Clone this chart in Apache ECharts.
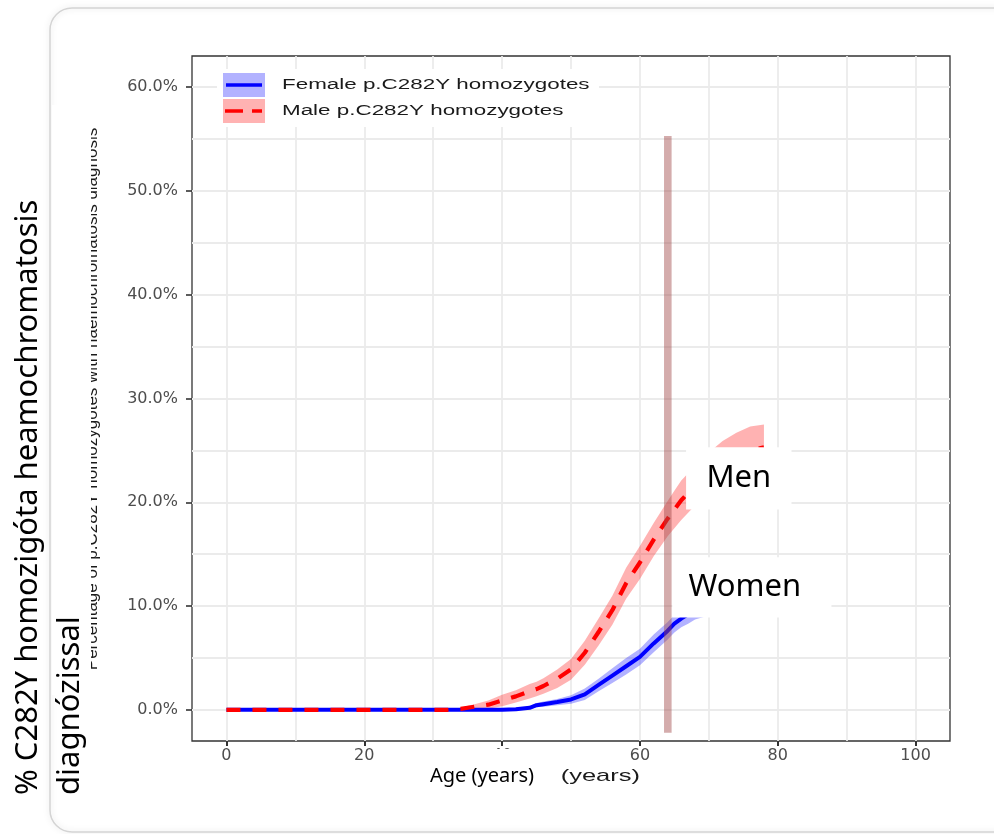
<!DOCTYPE html>
<html>
<head>
<meta charset="utf-8">
<script src="https://cdn.jsdelivr.net/npm/echarts@6/dist/echarts.min.js"></script>
<style>
  html, body { margin: 0; padding: 0; background: #fff; }
  #main { width: 994px; height: 834px; }
</style>
</head>
<body>
<div id="main"></div>
<script>
// ---------- 数据（从图上读出来的） ----------
const ages = [0, 30, 32, 34, 35, 36, 38, 40, 42, 44, 45, 46, 48, 50, 52, 54, 56, 58, 60, 62, 64, 65, 66, 67, 68, 70, 72, 74, 76, 78];

// 男性 %
const maleMid  = [0, 0, 0, 0.1, 0.2, 0.3, 0.5, 0.9, 1.3, 1.8, 2.0, 2.3, 3.0, 3.9, 5.5, 7.5, 9.6, 12.2, 14.2, 16.4, 18.4, 19.3, 20.2, 20.9, 21.6, 22.8, 23.8, 24.5, 25.0, 25.3];
const maleLow  = [0, 0, 0, 0, 0, 0.05, 0.1, 0.35, 0.7, 1.1, 1.3, 1.55, 2.1, 2.9, 4.35, 6.2, 8.2, 10.7, 12.6, 14.8, 16.7, 17.5, 18.3, 19.0, 19.7, 20.8, 21.7, 22.3, 22.7, 23.0];
const maleHigh = [0, 0, 0, 0.2, 0.4, 0.55, 0.9, 1.45, 1.9, 2.5, 2.7, 3.05, 3.9, 4.9, 6.65, 8.8, 11.0, 13.7, 15.8, 18.0, 20.1, 21.1, 22.1, 22.8, 23.5, 24.8, 25.9, 26.7, 27.3, 27.5];

// 女性 %
const femaleMid  = [0, 0, 0, 0, 0, 0, 0, 0, 0.05, 0.2, 0.45, 0.55, 0.75, 1.0, 1.5, 2.4, 3.3, 4.2, 5.1, 6.4, 7.6, 8.3, 8.8, 9.2, 9.6, 10.1, 10.5, 10.9, 11.2, 11.4];
const femaleLow  = [0, 0, 0, 0, 0, 0, 0, 0, 0, 0.05, 0.25, 0.3, 0.45, 0.6, 0.95, 1.8, 2.6, 3.4, 4.3, 5.55, 6.75, 7.45, 7.95, 8.3, 8.7, 9.1, 9.45, 9.8, 10.05, 10.2];
const femaleHigh = [0, 0, 0, 0, 0, 0, 0, 0, 0.1, 0.35, 0.65, 0.8, 1.05, 1.4, 2.05, 3.0, 4.0, 5.0, 5.9, 7.25, 8.45, 9.15, 9.65, 10.1, 10.5, 11.1, 11.55, 12.0, 12.35, 12.6];

// 刻度
const xTicks = [0, 20, 40, 60, 80, 100];
const xMinor = [10, 30, 50, 70, 90];
const yTicks = [0, 10, 20, 30, 40, 50, 60];
const yMinor = [5, 15, 25, 35, 45, 55];

const legendNames = ['Female p.C282Y homozygotes', 'Male p.C282Y homozygotes'];

// 标注：竖条 (年龄 64) 和两个白色文字框
const markerAges = [63.5, 64.6];
const markerPct = [-2.2, 55.3];
const menBox = { ages: [66.7, 82.0], pct: [19.3, 25.3] };
const womenBox = { ages: [64.7, 87.8], pct: [8.9, 14.7] };

// ---------- 工具 ----------
const pairs = (ys) => ages.map((a, i) => [a, ys[i]]);

// 置信带：上沿 + 反向下沿 组成多边形
function ribbon(lo, hi, color) {
  return {
    type: 'custom', z: 3, silent: true,
    data: [[0, 0]],
    renderItem: function (params, api) {
      const top = ages.map((a, i) => api.coord([a, hi[i]]));
      const bottom = ages.map((a, i) => api.coord([a, lo[i]])).reverse();
      return { type: 'polygon', shape: { points: top.concat(bottom) }, style: { fill: color } };
    }
  };
}

const chart = echarts.init(document.getElementById('main'));
const tickFont = { fontFamily: 'DejaVu Sans', fontSize: 16, color: '#4d4d4d' };
const noLine = { opacity: 0, width: 0 };

const option = {
  animation: false,
  grid: {
    left: 192, right: 44, top: 56, bottom: 93,
    show: true, borderColor: '#333', borderWidth: 1.3,
    backgroundColor: 'transparent',
    outerBoundsMode: 'none'
  },
  xAxis: {
    type: 'value', min: -5, max: 105, z: 5,
    axisLine: { show: false, onZero: false },
    splitLine: { show: false },
    axisTick: { show: true, inside: false, customValues: xTicks, length: 5, lineStyle: { color: '#333', width: 2 } },
    axisLabel: Object.assign({ customValues: xTicks, margin: 7 }, tickFont)
  },
  yAxis: {
    type: 'value', min: -3, max: 63, z: 5,
    axisLine: { show: false, onZero: false },
    splitLine: { show: false },
    axisTick: { show: true, inside: false, customValues: yTicks, length: 6, lineStyle: { color: '#333', width: 1.6 } },
    axisLabel: Object.assign({ customValues: yTicks, margin: 14, formatter: v => v.toFixed(1) + '%' }, tickFont)
  },
  series: [
    // 网格线
    {
      type: 'line', data: [[-5, -3]], symbol: 'none', lineStyle: noLine, z: 1, silent: true,
      markLine: {
        z: 1, silent: true, symbol: ['none', 'none'], label: { show: false },
        lineStyle: { color: '#ebebeb', type: 'solid', width: 1.8 },
        data: xTicks.concat(xMinor).map(v => ({ xAxis: v }))
          .concat(yTicks.concat(yMinor).map(v => ({ yAxis: v })))
      }
    },
    // 置信带
    ribbon(femaleLow, femaleHigh, 'rgba(0,0,255,0.3)'),
    ribbon(maleLow, maleHigh, 'rgba(255,0,0,0.3)'),
    // 曲线
    { name: legendNames[0], type: 'line', data: pairs(femaleMid), symbol: 'none', z: 5,
      lineStyle: { color: '#0000ff', width: 4 } },
    { name: legendNames[1], type: 'line', data: pairs(maleMid), symbol: 'none', z: 6,
      lineStyle: { color: '#ff0000', width: 4.2, type: [14, 12] } },
    // 标注
    {
      type: 'line', data: [[-5, -3]], symbol: 'none', lineStyle: noLine, z: 10, silent: true,
      markArea: {
        z: 20, silent: true,
        data: [
          [{ xAxis: markerAges[0], yAxis: markerPct[0], itemStyle: { color: 'rgba(160,70,70,0.45)' }, label: { show: false } },
           { xAxis: markerAges[1], yAxis: markerPct[1] }],
          [{ name: 'Men', xAxis: menBox.ages[0], yAxis: menBox.pct[0], itemStyle: { color: '#fff' },
             label: { show: true, position: 'inside', fontSize: 31, fontFamily: 'Noto Sans', color: '#000' } },
           { xAxis: menBox.ages[1], yAxis: menBox.pct[1] }],
          [{ name: 'Women', xAxis: womenBox.ages[0], yAxis: womenBox.pct[0], itemStyle: { color: '#fff' },
             label: { show: true, position: 'inside', offset: [-7, 0], fontSize: 31, fontFamily: 'Noto Sans', color: '#000' } },
           { xAxis: womenBox.ages[1], yAxis: womenBox.pct[1] }]
        ]
      }
    }
  ],
  graphic: [
    // 外框（不填充，避免盖住刻度）
    { type: 'rect', z: -10, shape: { x: 50, y: 8, width: 990, height: 824, r: 22 },
      style: { fill: 'none', stroke: '#d4d4d4', lineWidth: 1.5, shadowBlur: 6, shadowColor: 'rgba(0,0,0,0.15)' } },
    // 图例
    { type: 'rect', z: 40, shape: { x: 217, y: 69, width: 382, height: 58 }, style: { fill: '#fff' } },
    { type: 'rect', z: 41, shape: { x: 223, y: 73, width: 42, height: 24 }, style: { fill: 'rgba(0,0,255,0.3)' } },
    { type: 'line', z: 42, shape: { x1: 226, y1: 85, x2: 262, y2: 85 }, style: { stroke: '#0000ff', lineWidth: 3.5 } },
    { type: 'rect', z: 41, shape: { x: 223, y: 99, width: 42, height: 24 }, style: { fill: 'rgba(255,0,0,0.3)' } },
    { type: 'line', z: 42, shape: { x1: 225, y1: 111, x2: 262, y2: 111 }, style: { stroke: '#ff0000', lineWidth: 3.5, lineDash: [18, 9] } },
    { type: 'text', z: 42, x: 282, y: 85, scaleX: 1.6,
      style: { text: legendNames[0], fontFamily: 'Liberation Sans', fontSize: 14, fill: '#1a1a1a', align: 'left', verticalAlign: 'middle' } },
    { type: 'text', z: 42, x: 282, y: 111, scaleX: 1.6,
      style: { text: legendNames[1], fontFamily: 'Liberation Sans', fontSize: 14, fill: '#1a1a1a', align: 'left', verticalAlign: 'middle' } },
    // 原图的轴标题（被遮住一半）
    { type: 'text', z: 80, x: 92, y: 399, rotation: Math.PI / 2,
      style: { text: 'Percentage of p.C282Y homozygotes with haemochromatosis diagnosis', fontFamily: 'Liberation Sans', fontSize: 17,
               fill: '#1a1a1a', align: 'center', verticalAlign: 'middle' } },
    { type: 'rect', z: 90, shape: { x: 52, y: 105, width: 39, height: 590 }, style: { fill: '#fff' } },
    { type: 'text', z: 80, x: 640, y: 776, scaleX: 1.5,
      style: { text: 'Age (years)', fontFamily: 'Liberation Sans', fontSize: 17, fill: '#1a1a1a', align: 'right', verticalAlign: 'middle' } },
    { type: 'rect', z: 90, shape: { x: 418, y: 749, width: 143, height: 50 }, style: { fill: '#fff' } },
    // 覆盖的匈牙利语标题
    { type: 'text', z: 100, x: 482, y: 776,
      style: { text: 'Age (years)', fontFamily: 'Noto Sans', fontSize: 20, fill: '#000', align: 'center', verticalAlign: 'middle' } },
    { type: 'text', z: 100, x: 28, y: 795, rotation: Math.PI / 2,
      style: { text: '% C282Y homozigóta heamochromatosis', fontFamily: 'Noto Sans', fontSize: 31, fill: '#000', align: 'left', verticalAlign: 'middle' } },
    { type: 'text', z: 100, x: 70, y: 795, rotation: Math.PI / 2,
      style: { text: 'diagnózissal', fontFamily: 'Noto Sans', fontSize: 31, fill: '#000', align: 'left', verticalAlign: 'middle' } }
  ]
};

chart.setOption(option);
</script>
</body>
</html>
